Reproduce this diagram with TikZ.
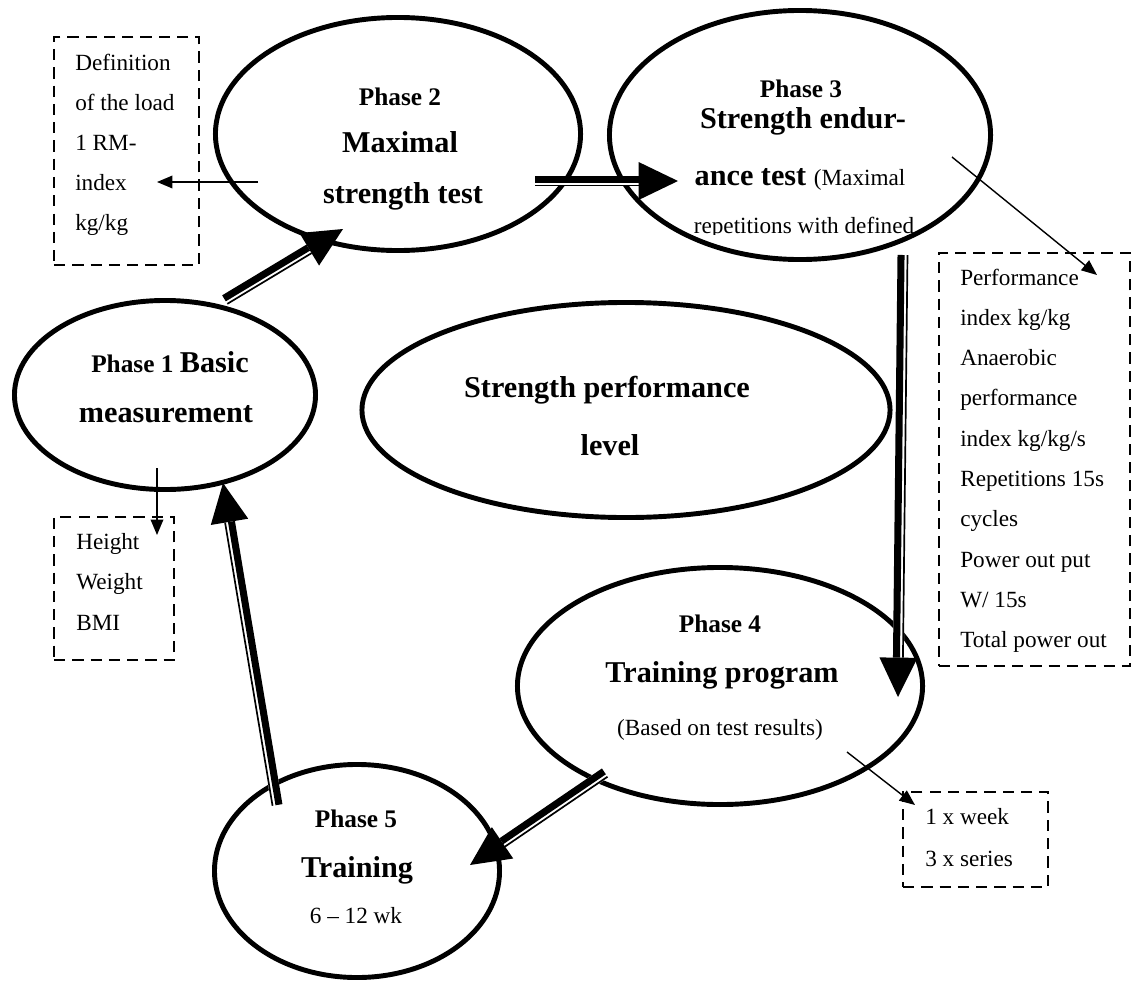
\documentclass[tikz,border=0pt]{standalone}
\usepackage{fontspec}
\setmainfont{Liberation Serif}
\usepackage{tikz}
\usetikzlibrary{arrows.meta,calc,shapes.geometric}
\newcommand{\smallfont}{\normalfont\fontsize{16.5}{20}\selectfont}
\newcommand{\phasefont}{\fontsize{18}{22}\selectfont\bfseries}
\newcommand{\titlefont}{\fontsize{21.5}{26}\selectfont\bfseries}
\tikzset{
  phase/.style={ellipse, draw, fill=white, line width=3.5pt, inner sep=0pt},
  notebox/.style={draw, line width=2pt, dash pattern=on 8pt off 5pt, inner sep=0pt},
  ptr/.style={-{Triangle[length=11pt,width=9pt]}, line width=1pt},
  lbl/.style={anchor=base, inner sep=0pt},
  boxtxt/.style={anchor=base west, inner sep=0pt, font=\smallfont},
}
% striped arrow: thick line, white gap, thin line, big head
% #1 tail, #2 tip, #3 side of the thick line, #4 side of the thin line
\newcommand{\dblarrow}[4]{%
  \coordinate (hb) at ($(#2)!28pt!(#1)$);
  \draw[white, line width=7.8pt] (#1) -- (hb);
  \draw[line width=5pt] ($(#1)!1.4pt!#3:(#2)$) -- ($(hb)!1.4pt!#3:(#2)$);
  \draw[line width=1.2pt] ($(#1)!3.2pt!#4:(#2)$) -- ($(hb)!3.2pt!#4:(#2)$);
  \fill (#2) -- ($(hb)!13.5pt!90:(#2)$) -- ($(hb)!13.5pt!-90:(#2)$) -- cycle;
}

\begin{document}
\begin{tikzpicture}[x=0.025cm, y=-0.025cm]
    \useasboundingbox (0,0) rectangle (1133,987);
    % the six ellipses
    \node[phase, minimum width=7.525cm, minimum height=4.725cm] (p1) at (165,395) {};
    \node[phase, minimum width=9.125cm, minimum height=5.825cm] (p2) at (398,134) {};
    \node[phase, minimum width=9.525cm, minimum height=6.225cm] (p3) at (800,135) {};
    \node[phase, minimum width=13.2cm, minimum height=5.375cm] (lvl) at (626,410) {};
    \node[phase, minimum width=10.125cm, minimum height=5.925cm] (p4) at (720,686) {};
    \node[phase, minimum width=7.125cm, minimum height=5.325cm] (p5) at (357,871) {};
    % dashed note boxes
    \node[notebox, minimum width=3.625cm, minimum height=5.7cm] (boxA) at (126.5,151) {};
    \node[notebox, minimum width=3cm, minimum height=3.575cm] (boxB) at (114,588.5) {};
    \node[notebox, minimum width=4.775cm, minimum height=10.325cm] (boxC) at (1034.5,459.5) {};
    \node[notebox, minimum width=3.625cm, minimum height=2.375cm] (boxD) at (975.5,839.5) {};
    % texts of the phases
    \node[lbl] (p1a) at (170,372) {\phasefont Phase 1 \titlefont Basic};
    \node[lbl, font=\titlefont] (p1b) at (166,422) {measurement};
    \node[lbl, font=\phasefont] (p2a) at (400,105) {Phase 2};
    \node[lbl, font=\titlefont] (p2b) at (400,152) {Maximal};
    \node[lbl, font=\titlefont] (p2c) at (403,203) {strength test};
    \node[lbl, font=\phasefont] (p3a) at (801,97) {Phase 3};
    \node[lbl, font=\titlefont] (p3b) at (803,128) {Strength endur-};
    \node[lbl] (p3c) at (800,185) {\titlefont ance test \smallfont(Maximal};
    \begin{scope}
      \clip (600,0) rectangle (1000,234);
      \node[lbl, font=\smallfont] (p3d) at (804,233) {repetitions with defined};
    \end{scope}
    \node[lbl, font=\titlefont] (lvla) at (607,397) {Strength performance};
    \node[lbl, font=\titlefont] (lvlb) at (610,455) {level};
    \node[lbl, font=\phasefont] (p4a) at (720,632) {Phase 4};
    \node[lbl, font=\titlefont] (p4b) at (722,682) {Training program};
    \node[lbl, font=\smallfont] (p4c) at (720,735) {(Based on test results)};
    \node[lbl, font=\phasefont] (p5a) at (356,827) {Phase 5};
    \node[lbl, font=\titlefont] (p5b) at (357,877) {Training};
    \node[lbl, font=\smallfont] (p5c) at (356,923) {6 -- 12 wk};
    % texts of the boxes
    \foreach \t [count=\i from 0] in {Definition, of the load, 1 RM-, index, kg/kg}
      \node[boxtxt] (a\i) at (75,{70+40*\i}) {\t};
    \foreach \t [count=\i from 0] in {Height, Weight, BMI}
      \node[boxtxt] (b\i) at (76,{549+40.5*\i}) {\t};
    \foreach \t [count=\i from 0] in {Performance, index kg/kg, Anaerobic, performance,
        index kg/kg/s, Repetitions 15s, cycles, Power out put, W/ 15s, Total power out}
      \node[boxtxt] (c\i) at (960,{285+40.33*\i}) {\t};
    \foreach \t [count=\i from 0] in {1 x week, 3 x series}
      \node[boxtxt] (d\i) at (925,{824+42*\i}) {\t};
    % thin pointers into the boxes
    \coordinate (qA1) at (258,182); \coordinate (qA2) at (157,182);
    \coordinate (qB1) at (157,468); \coordinate (qB2) at (157,535);
    \coordinate (qC1) at (952,157); \coordinate (qC2) at (1097,275);
    \coordinate (qD1) at (847,752); \coordinate (qD2) at (915,805);
    \draw[ptr] (qA1) -- (qA2);
    \draw[ptr] (qB1) -- (qB2);
    \draw[ptr] (qC1) -- (qC2);
    \draw[ptr] (qD1) -- (qD2);
    % the cycle of phases
    \coordinate (s12) at (225,300); \coordinate (e12) at (343,229);
    \coordinate (s23) at (535,181); \coordinate (e23) at (678,181);
    \coordinate (s34) at (903,255); \coordinate (e34) at (898,697);
    \coordinate (s45) at (605,773); \coordinate (e45) at (470,865);
    \coordinate (s51) at (277,805); \coordinate (e51) at (223,483);
    \dblarrow{s12}{e12}{90}{-90}
    \dblarrow{s23}{e23}{90}{-90}
    \dblarrow{s34}{e34}{-90}{90}
    \dblarrow{s45}{e45}{-90}{90}
    \dblarrow{s51}{e51}{-90}{90}
\end{tikzpicture}
\end{document}
